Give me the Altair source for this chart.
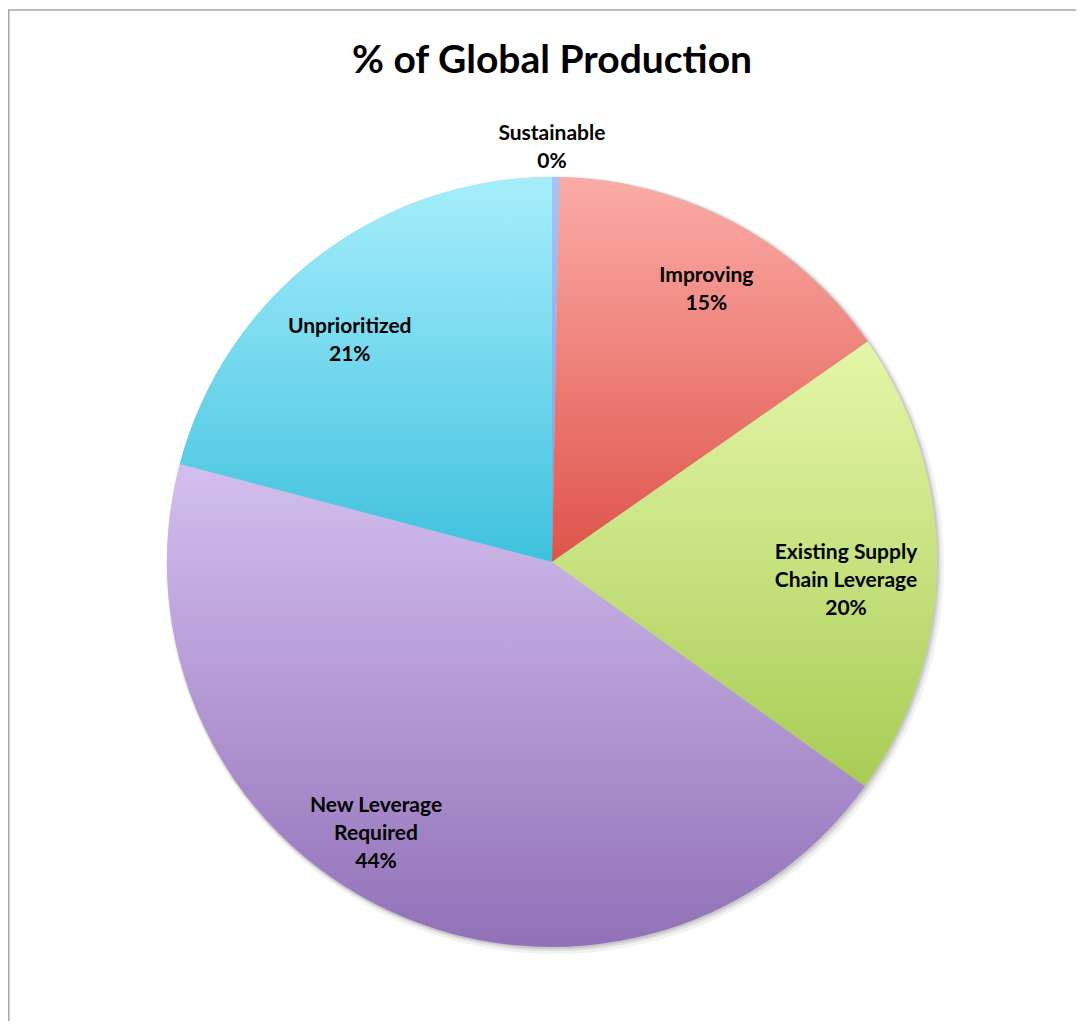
import math
import altair as alt
import pandas as pd

# ---- data ----
categories = ["Sustainable", "Improving", "Existing Supply Chain Leverage",
              "New Leverage Required", "Unprioritized"]
values = [0.3, 15.0, 19.6, 44.2, 20.9]
label_texts = ["Sustainable\n0%", "Improving\n15%", "Existing Supply\nChain Leverage\n20%",
               "New Leverage\nRequired\n44%", "Unprioritized\n21%"]
title_text = "% of Global Production"

df = pd.DataFrame({
    "category": categories,
    "value": values,
    "label": label_texts,
    "order": list(range(len(categories))),
})

# ---- styling ----
FONT = "Lato"
CX, CY = 544, 554          # pie centre inside plot area
R = 385

grad_colors = {
    "Sustainable": ("#A8C3F7", "#7C9BE0"),
    "Improving": ("#FBACA6", "#DE5349"),
    "Existing Supply Chain Leverage": ("#E4F7A9", "#A9CC55"),
    "New Leverage Required": ("#D3BFEF", "#9171B7"),
    "Unprioritized": ("#A7EEFC", "#3EC1DE"),
}
# label placement: (radius, dx, dy)
label_pos = {
    "Sustainable": (416, -4, -12),
    "Improving": (313, 7, -10),
    "Existing Supply Chain Leverage": (310, -16, -11),
    "New Leverage Required": (310, -44, -36),
    "Unprioritized": (310, -13, 11),
}

theta_scale = alt.Scale(domain=[0, 100], range=[0, 2 * math.pi])

base = (
    alt.Chart(df)
    .transform_window(end="sum(value)", sort=[alt.SortField("order")])
    .transform_calculate(start="datum.end - datum.value")
    .transform_calculate(mid="(datum.start + datum.end) / 2")
)

layers = []

# faint shadow behind the pie
shadow_src = alt.Chart(pd.DataFrame({"a": [0]}))
for r, op, off in [(R + 4, 0.05, 3), (R + 2, 0.08, 2), (R + 1, 0.10, 1)]:
    layers.append(
        shadow_src.mark_arc(radius=r, color="#000000", opacity=op).encode(
            theta=alt.value(2 * math.pi),
            x=alt.value(CX + off), y=alt.value(CY + off),
        )
    )

for cat in categories:
    top, bottom = grad_colors[cat]
    grad = alt.Gradient(
        gradient="linear",
        stops=[alt.GradientStop(color=top, offset=0),
               alt.GradientStop(color=bottom, offset=1)],
        x1=0, x2=0, y1=0, y2=1,
    )
    layers.append(
        base.transform_filter(alt.datum.category == cat)
        .mark_arc(radius=R, color=grad, stroke=None)
        .encode(
            theta=alt.Theta("start:Q", scale=theta_scale, stack=False),
            theta2=alt.Theta2("end:Q"),
            x=alt.value(CX), y=alt.value(CY),
        )
    )

for cat in categories:
    r, dx, dy = label_pos[cat]
    layers.append(
        base.transform_filter(alt.datum.category == cat)
        .mark_text(radius=r, dx=dx, dy=dy, font=FONT, fontSize=21, fontWeight="bold",
                   color="#000000", lineBreak="\n", lineHeight=28,
                   align="center", baseline="middle")
        .encode(
            theta=alt.Theta("mid:Q", scale=theta_scale, stack=False),
            text="label:N",
            x=alt.value(CX), y=alt.value(CY),
        )
    )

# title
layers.append(
    alt.Chart(pd.DataFrame({"t": [title_text]}))
    .mark_text(font=FONT, fontSize=39, fontWeight="bold", color="#000000",
               align="center", baseline="middle")
    .encode(text="t:N", x=alt.value(CX), y=alt.value(53))
)

# chart border (left and top edges visible)
border_src = alt.Chart(pd.DataFrame({"a": [0]}))
layers.append(border_src.mark_rule(color="#A6A6A6", strokeWidth=1.5).encode(
    x=alt.value(0.75), y=alt.value(2), y2=alt.value(1013)))
layers.append(border_src.mark_rule(color="#A6A6A6", strokeWidth=1.5).encode(
    x=alt.value(0), x2=alt.value(1068), y=alt.value(2)))

chart = (
    alt.layer(*layers)
    .properties(width=1068, height=1013, padding=0,
                autosize=alt.AutoSizeParams(type="none"), background="#FFFFFF")
    .configure_view(strokeWidth=0)
)

chart.save("out.html", embed_options={"renderer": "svg", "actions": False})
